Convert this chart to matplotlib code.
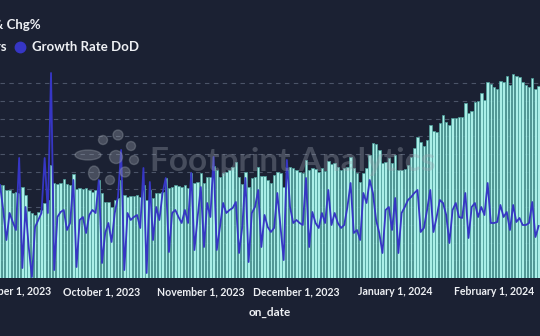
"""
Daily users bars with day-over-day growth line (dark theme)
"""

import matplotlib

matplotlib.use("Agg")
import matplotlib.dates as mdates
import matplotlib.pyplot as plt
import pandas as pd
from matplotlib.lines import Line2D
from matplotlib.patches import Ellipse

START_DATE = "2023-08-30"

# daily users, thousands
users_k = [
    52.5, 52.5, 49.7, 49.7, 48.0, 48.6, 48.0, 51.4, 46.9, 37.9,
    36.7, 35.6, 37.3, 38.4, 42.4, 44.1, 63.8, 53.7, 53.1, 53.7,
    55.9, 53.1, 52.5, 58.8, 50.3, 50.8, 50.0, 50.6, 49.7,
    48.6, 49.7, 55.4, 48.0, 42.9, 42.9, 40.1, 44.1, 45.2, 55.4,
    46.9, 45.8, 46.3, 46.3, 46.9, 45.8, 52.5, 44.1, 49.7, 45.2,
    48.0, 48.0, 48.6, 56.5, 50.9, 51.4, 52.5, 52.0,
    51.4, 52.5, 50.9, 59.3, 53.7, 54.2, 59.3, 53.7, 57.1, 57.1,
    63.3, 61.0, 57.1, 59.3, 59.9, 61.0, 62.7, 65.5, 57.1, 53.1,
    59.9, 51.4, 56.5, 57.1, 62.7, 57.6, 57.6, 55.4,
    53.7, 58.2, 59.9, 59.3, 51.4, 61.0, 62.7, 62.2, 61.0, 59.9,
    59.3, 66.7, 61.0, 62.2, 61.6, 59.9, 62.2, 60.5, 66.1, 64.4,
    65.0, 62.7, 61.0, 62.2, 62.7, 68.4, 62.2, 59.3,
    54.2, 59.3, 62.2, 69.5, 76.3, 75.7, 72.3, 65.0, 65.5, 67.8,
    65.0, 69.5, 61.0, 61.0, 61.6, 63.8, 68.4, 73.5, 79.7, 76.8,
    74.6, 78.0, 86.4, 83.1, 82.5, 87.6, 92.1, 88.1,
    86.4, 90.4, 90.4, 91.0, 91.0, 98.9, 93.2, 94.4, 99.4, 100.0,
    104.5, 100.6, 110.7, 109.6, 107.9, 106.8, 111.3, 110.7, 114.1, 109.0,
    115.3, 114.1, 113.6, 110.7, 109.0, 107.9, 113.0, 106.8, 108.5,
]

# growth rate day over day, percent
growth_pct = [
    7.5, 1.25, -6.25, 0.5, -1.75, -3.75, 14.25, -13.25, 2.0, -8.0,
    -15.5, -3.0, -1.25, 0.5, 14.25, 0.5, 35.5, -13.75, -0.5, 0.75,
    1.25, -3.75, -2.0, 8.75, -13.0, -1.25, -0.5, -4.5, 0.0,
    1.25, 0.5, 8.75, -12.0, -4.5, -2.0, -6.75, 0.5, 4.5, 16.25,
    -13.75, 0.5, -1.25, -0.5, 0.0, -3.25, 11.75, -14.5, 8.25, -6.25,
    2.0, -1.25, 5.5, 9.25, -9.25, 0.5, 1.25, -0.5,
    -2.0, 1.25, -2.0, 10.5, -8.75, -0.5, 7.0, -8.0, 3.0, -0.5,
    14.5, -8.75, -3.0, 3.0, 0.5, 1.25, 1.75, 3.25, -9.5, -3.0,
    9.25, -11.75, 0.5, 2.0, 6.25, -8.0, 0.0, -3.0,
    -4.25, -3.25, 5.5, -3.0, -11.25, 13.75, 2.0, -2.0, -1.25, -2.0,
    -2.5, 9.25, -8.0, 0.75, -2.0, -3.25, 0.5, -2.0, 6.25, -2.5,
    0.5, -2.0, -3.25, -2.5, 2.0, 8.0, -4.5, -3.75,
    -6.25, 5.5, 3.0, 8.75, 5.5, -1.25, -4.5, -9.5, 1.25, 2.0,
    -3.75, 4.25, -9.5, 0.5, 2.0, 3.75, 4.5, 5.5, 6.25, -4.25,
    -3.25, 1.25, 6.25, -4.25, -0.5, 3.75, 3.0, 0.0,
    -7.0, 1.25, 3.0, -0.5, -0.75, 5.5, -5.75, 2.0, 3.0, -0.5,
    2.0, 0.0, 8.0, -2.0, -2.0, -1.75, 2.5, -0.5, 0.75, -3.75,
    2.5, -1.75, -0.75, -2.5, -2.5, -2.0, 3.25, -5.5, -2.75,
]

tick_dates = ["2023-09-01", "2023-10-01", "2023-11-01",
              "2023-12-01", "2024-01-01", "2024-02-01"]
tick_labels = ["September 1, 2023", "October 1, 2023", "November 1, 2023",
               "December 1, 2023", "January 1, 2024", "February 1, 2024"]

BG = "#1b2133"
BAR = "#aaefe8"
BAR_EDGE = "#4c9f9b"
LINE = "#3636c4"
TEXT = "#eef0f4"
FONT = ["Lato", "DejaVu Sans"]

W, H = 540, 336

dates = pd.date_range(START_DATE, periods=len(users_k), freq="D")
day0 = mdates.date2num(pd.Timestamp(START_DATE))

fig = plt.figure(figsize=(W / 100, H / 100), dpi=100, facecolor=BG)
ax = fig.add_axes([0, 58 / H, 1, 208 / H])
ax.set_facecolor(BG)

ax.bar(dates, users_k, width=0.78, color=BAR, edgecolor=BAR_EDGE,
       linewidth=0.5, zorder=2)
ax.set_ylim(0, 117.5)
ax.set_yticks(range(0, 120, 10))
ax.grid(axis="y", color="#4b5468", linestyle=(0, (4, 4)), linewidth=0.8)
ax.set_axisbelow(True)
ax.set_xlim(day0 - 0.01, day0 + 169.43)

ax.set_xticks([mdates.date2num(pd.Timestamp(d)) for d in tick_dates])
ax.set_xticklabels(tick_labels, color=TEXT, fontsize=7.6,
                   fontweight="bold", family=FONT)
ax.tick_params(axis="x", length=0, pad=6)
ax.tick_params(axis="y", length=0, labelleft=False)
for s in ax.spines.values():
    s.set_visible(False)

ax2 = ax.twinx()
ax2.plot(dates, growth_pct, color=LINE, linewidth=1.3, zorder=3)
ax2.set_ylim(-15.75, 36.25)
ax2.set_xlim(ax.get_xlim())
ax2.axis("off")

# title and legend, cropped on the left like the original
fig.text(41 / W, 1 - 25 / H, "Daily Active Users & Chg%", ha="right",
         va="center", color=TEXT, fontsize=9.5, fontweight="bold", family=FONT)
fig.text(6 / W, 1 - 47 / H, "Daily Active Users", ha="right", va="center",
         color=TEXT, fontsize=9.5, fontweight="bold", family=FONT)
fig.add_artist(Line2D([20 / W], [1 - 47 / H], marker="o", markersize=7.5,
                      color=LINE, transform=fig.transFigure))
fig.text(32 / W, 1 - 47 / H, "Growth Rate DoD", ha="left", va="center",
         color=TEXT, fontsize=9.5, fontweight="bold", family=FONT)

fig.text(270 / W, 1 - 312 / H, "on_date", ha="center", va="center",
         color=TEXT, fontsize=8.5, fontweight="bold", family=FONT)

# watermark
fig.text(150 / W, 1 - 161 / H, "Footprint Analytics", ha="left", va="center",
         color="#9aa1ac", alpha=0.35, fontsize=24, fontweight="bold",
         family=FONT, zorder=10)
for cx, cy, ew, eh in [(88, 155, 26, 10), (103, 140, 9, 9), (118, 135, 10, 10),
                       (131, 146, 9, 9), (134, 160, 9, 9), (125, 172, 10, 10),
                       (110, 180, 9, 9), (94, 173, 11, 14), (116, 157, 13, 13)]:
    fig.add_artist(Ellipse((cx / W, 1 - cy / H), ew / W, eh / H,
                           transform=fig.transFigure, color="#9aa1ac",
                           alpha=0.35, zorder=10))

fig.savefig("out.png", dpi=100, facecolor=BG)
